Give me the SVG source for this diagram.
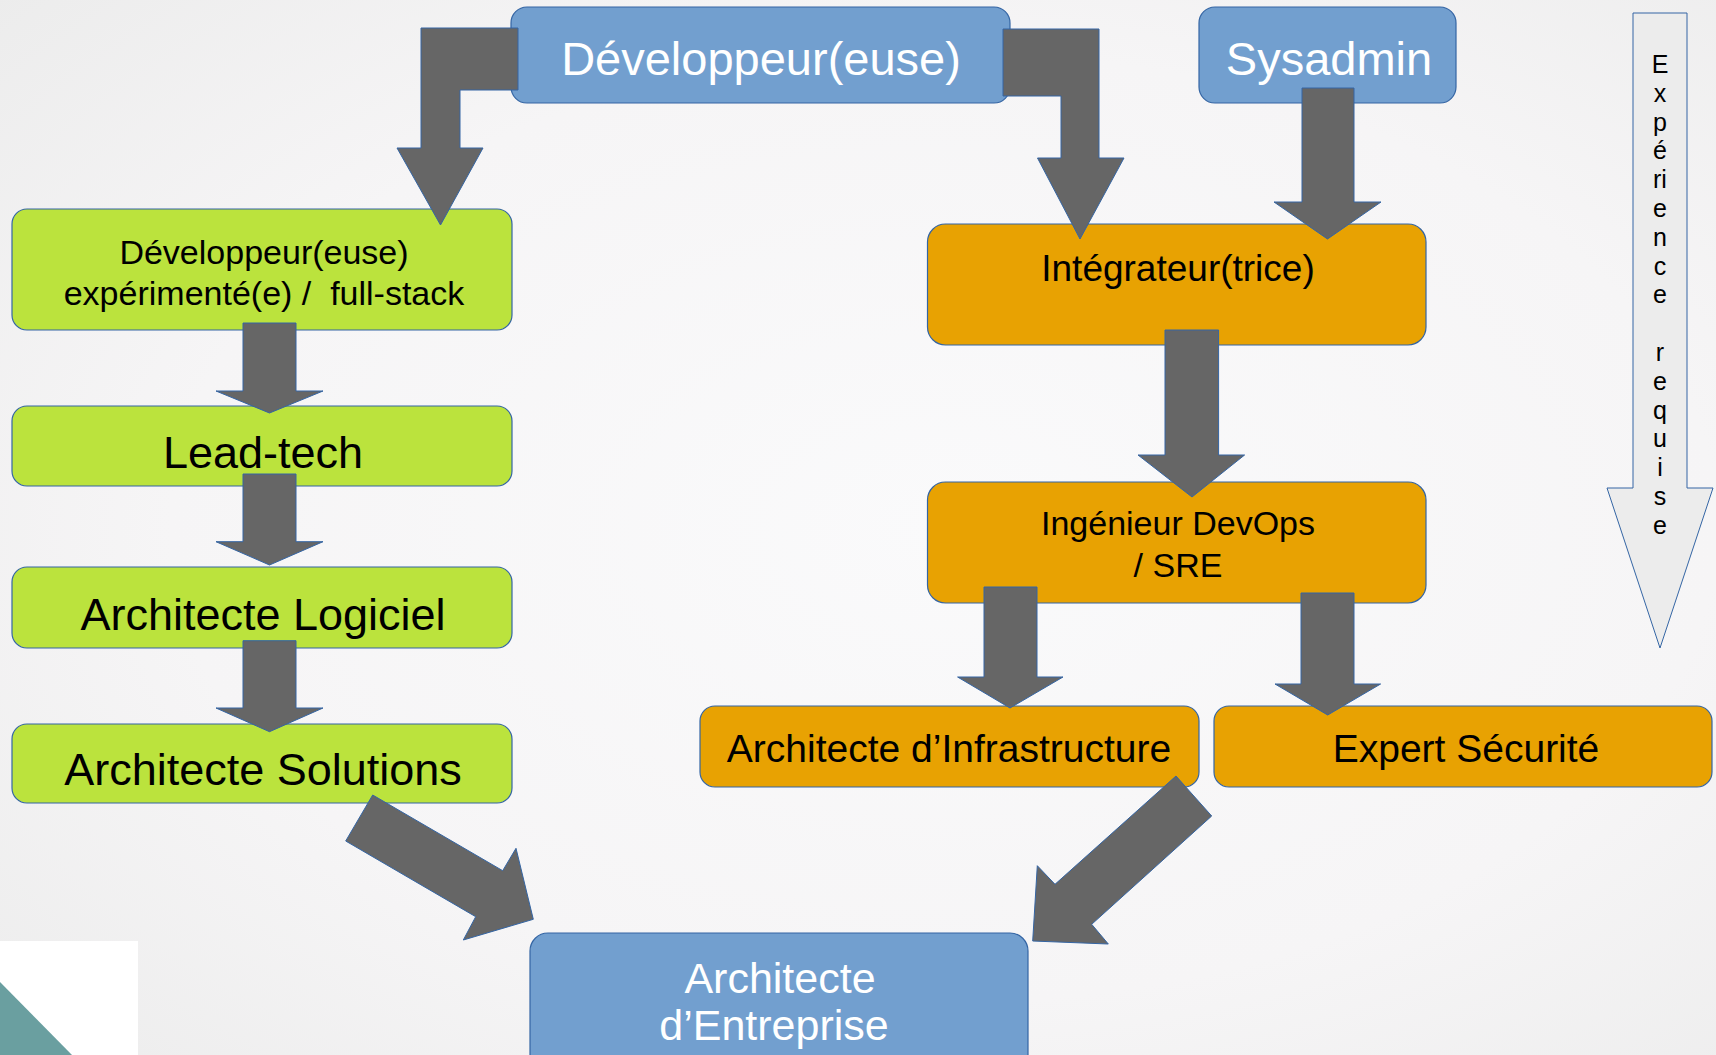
<svg xmlns="http://www.w3.org/2000/svg" width="1716" height="1055" viewBox="0 0 1716 1055">
  <defs>
    <radialGradient id="bg" cx="0.55" cy="0.5" r="0.75">
      <stop offset="0" stop-color="#fafafb"/>
      <stop offset="0.6" stop-color="#f6f5f6"/>
      <stop offset="1" stop-color="#ececec"/>
    </radialGradient>
    <style>
      .box { stroke: #3465a4; stroke-width: 1.2; }
      .blue { fill: #729fcf; }
      .green { fill: #bbe33d; }
      .orange { fill: #e8a202; }
      .arrow { fill: #666666; stroke: #3465a4; stroke-width: 1; stroke-linejoin: miter; }
      text { font-family: "Liberation Sans", Arial, sans-serif; text-anchor: middle; }
      .w { fill: #ffffff; }
      .k { fill: #000000; }
      .exp { font-size: 25px; fill: #000000; }
    </style>
  </defs>

  <!-- background -->
  <rect x="0" y="0" width="1716" height="1055" fill="url(#bg)"/>
  <rect x="0" y="941" width="138" height="114" fill="#ffffff"/>
  <polygon points="0,982 72,1055 0,1055" fill="#6a9fa0"/>

  <!-- nodes -->
  <g id="developpeur">
    <rect class="box blue" x="511" y="7" width="499" height="96" rx="16"/>
    <text class="w" x="761" y="75" font-size="47">Développeur(euse)</text>
  </g>
  <g id="sysadmin">
    <rect class="box blue" x="1199" y="7" width="257" height="96" rx="16"/>
    <text class="w" x="1329" y="75" font-size="47">Sysadmin</text>
  </g>
  <g id="dev-experimente">
    <rect class="box green" x="12" y="209" width="500" height="121" rx="15"/>
    <text class="k" x="264" y="264" font-size="34">Développeur(euse)</text>
    <text class="k" x="264" y="305" font-size="34" xml:space="preserve">expérimenté(e) /  full-stack</text>
  </g>
  <g id="lead-tech">
    <rect class="box green" x="12" y="406" width="500" height="80" rx="15"/>
    <text class="k" x="263" y="468" font-size="45">Lead-tech</text>
  </g>
  <g id="architecte-logiciel">
    <rect class="box green" x="12" y="567" width="500" height="81" rx="15"/>
    <text class="k" x="263" y="630" font-size="45">Architecte Logiciel</text>
  </g>
  <g id="architecte-solutions">
    <rect class="box green" x="12" y="724" width="500" height="79" rx="15"/>
    <text class="k" x="263" y="785" font-size="45">Architecte Solutions</text>
  </g>
  <g id="integrateur">
    <rect class="box orange" x="927.5" y="224" width="498.5" height="121" rx="18"/>
    <text class="k" x="1178" y="281" font-size="37">Intégrateur(trice)</text>
  </g>
  <g id="devops">
    <rect class="box orange" x="927.5" y="482" width="498.5" height="121" rx="18"/>
    <text class="k" x="1178" y="535" font-size="34">Ingénieur DevOps</text>
    <text class="k" x="1178" y="577" font-size="34">/ SRE</text>
  </g>
  <g id="architecte-infrastructure">
    <rect class="box orange" x="700" y="706" width="499" height="81" rx="15"/>
    <text class="k" x="949" y="762" font-size="39">Architecte d’Infrastructure</text>
  </g>
  <g id="expert-securite">
    <rect class="box orange" x="1214" y="706" width="498" height="81" rx="15"/>
    <text class="k" x="1466" y="762" font-size="39">Expert Sécurité</text>
  </g>
  <g id="architecte-entreprise">
    <rect class="box blue" x="530" y="933" width="498" height="140" rx="18"/>
    <text class="w" x="780" y="993" font-size="43">Architecte</text>
    <text class="w" x="774" y="1040" font-size="43">d’Entreprise</text>
  </g>

  <!-- experience scale -->
  <g id="experience">
    <polygon points="1633,13 1687,13 1687,488 1713,488 1660,648 1607,488 1633,488" fill="#ececec" stroke="#3465a4" stroke-width="1"/>
    <text class="exp" x="1660" y="73">E</text>
    <text class="exp" x="1660" y="101.8">x</text>
    <text class="exp" x="1660" y="130.6">p</text>
    <text class="exp" x="1660" y="159.4">é</text>
    <text class="exp" x="1660" y="188.2">ri</text>
    <text class="exp" x="1660" y="217">e</text>
    <text class="exp" x="1660" y="245.8">n</text>
    <text class="exp" x="1660" y="274.6">c</text>
    <text class="exp" x="1660" y="303.4">e</text>
    <text class="exp" x="1660" y="361">r</text>
    <text class="exp" x="1660" y="389.8">e</text>
    <text class="exp" x="1660" y="418.6">q</text>
    <text class="exp" x="1660" y="447.4">u</text>
    <text class="exp" x="1660" y="476.2">i</text>
    <text class="exp" x="1660" y="505">s</text>
    <text class="exp" x="1660" y="533.8">e</text>
  </g>

  <!-- connectors -->
  <g id="connectors">
    <polygon class="arrow" points="518,28 421,28 421,148 397,148 440.5,225 483,148 460,148 460,90 518,90"/>
    <polygon class="arrow" points="1003,29 1099,29 1099,158 1124,158 1080,239 1037.5,158 1061,158 1061,96 1003,96"/>
    <polygon class="arrow" points="1302,88 1354,88 1354,202 1381,202 1327.5,239 1274,202 1302,202"/>
    <polygon class="arrow" points="1165,330 1218.6,330 1218.6,455 1244.6,455 1192,497 1138,455 1165,455"/>
    <polygon class="arrow" points="984,587 1037,587 1037,677 1063,677 1010,708 957.6,677 984,677"/>
    <polygon class="arrow" points="1301,593 1354,593 1354,684 1380.6,684 1327.7,715 1275,684 1301,684"/>
    <polygon class="arrow" points="243,323 296,323 296,391 323,391 269.5,413 216,391 243,391"/>
    <polygon class="arrow" points="243,474 296,474 296,541.7 323,541.7 269.5,565 216,541.7 243,541.7"/>
    <polygon class="arrow" points="243,640.7 296,640.7 296,708 323,708 269.5,731.7 216,708 243,708"/>
    <polygon class="arrow" points="372.7,795 502.7,870.7 516,848.3 533.3,919.3 463.3,940 475.7,916.7 345.7,841"/>
    <polygon class="arrow" points="1176,776 1211.7,816 1091.7,924.3 1108.3,944 1032.7,941 1037.3,865.7 1055,884.3"/>
  </g>
</svg>
